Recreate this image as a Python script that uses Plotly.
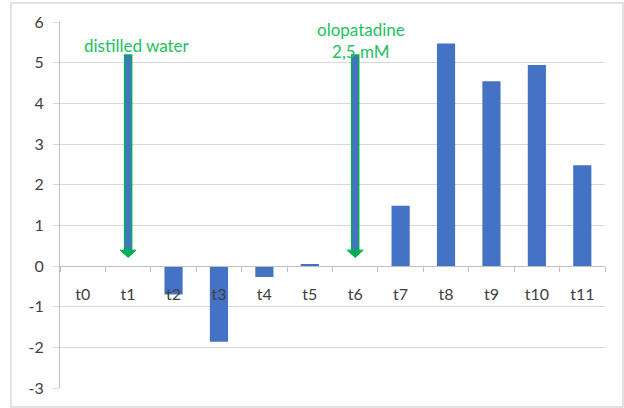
import plotly.graph_objects as go

categories = ["t0", "t1", "t2", "t3", "t4", "t5", "t6", "t7", "t8", "t9", "t10", "t11"]
values = [0, 0, -0.70, -1.86, -0.27, 0.05, 0, 1.48, 5.47, 4.54, 4.94, 2.48]
y_ticks = [-3, -2, -1, 0, 1, 2, 3, 4, 5, 6]
y_tick_text = ["-3", "-2", "-1", "0", "1", "2", "3", "4", "5", "6"]

arrow_cats = ["t1", "t6"]
arrow_top = 5.19
arrow_head_top = 0.39
arrow_tip = 0.21
arrow_labels = ["distilled water", "olopatadine<br>2,5 mM"]
label_y = [5.43, 5.55]

BAR = "#4472C4"
GREEN = "#00B050"
TEXTGREEN = "#22C162"
FONT = "Lato, 'Open Sans', sans-serif"

fig = go.Figure()
fig.add_trace(go.Bar(x=categories, y=values, marker=dict(color=BAR, line=dict(width=0)),
                     width=0.4, showlegend=False))

shapes = []
for c in arrow_cats:
    shapes.append(dict(type="path", xref="x", yref="y", xsizemode="pixel", xanchor=c,
                       path=f"M -3.5,{arrow_top} L 3.5,{arrow_top} L 3.5,{arrow_head_top} L -3.5,{arrow_head_top} Z",
                       fillcolor=BAR, line=dict(color=GREEN, width=1.5), layer="above"))
    shapes.append(dict(type="path", xref="x", yref="y", xsizemode="pixel", xanchor=c,
                       path=f"M -8,{arrow_head_top} L 8,{arrow_head_top} L 0,{arrow_tip} Z",
                       fillcolor=GREEN, line=dict(color=GREEN, width=1), layer="above"))

# outer chart border
shapes.append(dict(type="rect", xref="paper", yref="paper", x0=-0.09, x1=1.033, y0=-0.052, y1=1.052,
                   line=dict(color="#D9D9D9", width=1.5), fillcolor="rgba(0,0,0,0)", layer="below"))

annotations = []
for c, t, ly in zip(arrow_cats, arrow_labels, label_y):
    annotations.append(dict(x=c, y=ly, xref="x", yref="y", text=t, showarrow=False,
                            font=dict(family=FONT, size=17, color=TEXTGREEN), xshift=9 if c == "t1" else 6))

fig.update_layout(
    width=624, height=408,
    margin=dict(l=60, r=19, t=22, b=20),
    paper_bgcolor="white", plot_bgcolor="white",
    font=dict(family=FONT, size=16, color="#404040"),
    bargap=0.6,
    shapes=shapes,
    annotations=annotations,
    xaxis=dict(type="category", anchor="free", position=1/3, showline=True, linecolor="#BFBFBF",
               linewidth=1, ticks="outside", tickson="boundaries", ticklen=5, tickcolor="#BFBFBF",
               showgrid=False, ticklabelstandoff=14, tickfont=dict(size=16, color="#404040")),
    yaxis=dict(range=[-3, 6], tickvals=y_ticks, ticktext=y_tick_text, showgrid=True,
               gridcolor="#D9D9D9", gridwidth=1,
               zeroline=False, showline=True, linecolor="#BFBFBF", ticks="outside", ticklen=6,
               tickcolor="#D9D9D9", ticklabelstandoff=6, tickfont=dict(size=16, color="#404040")),
)

fig.write_html("out.html", config={"displayModeBar": False},
               post_script="document.body.style.margin='0';document.body.style.overflow='hidden';")
